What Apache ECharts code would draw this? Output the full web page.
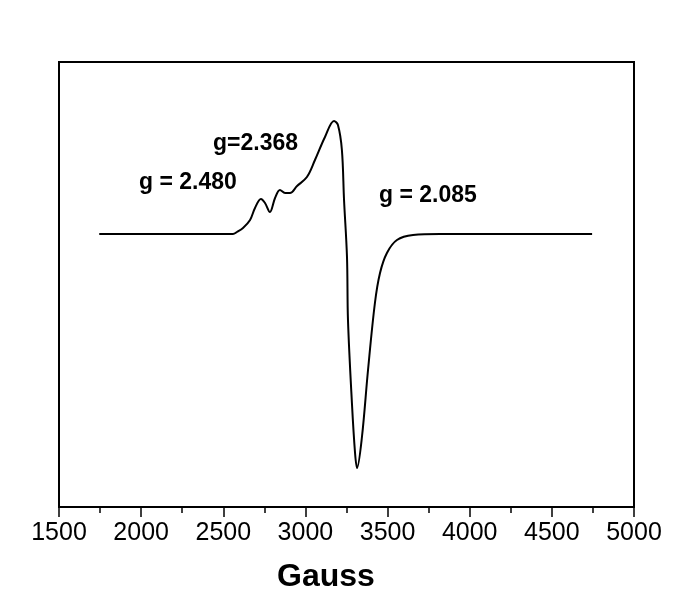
<!DOCTYPE html>
<html>
<head>
<meta charset="utf-8">
<script src="https://cdn.jsdelivr.net/npm/echarts@6/dist/echarts.min.js"></script>
<style>
  html, body { margin: 0; padding: 0; background: #fff; }
  #chart { width: 694px; height: 603px; }
</style>
</head>
<body>
<div id="chart"></div>
<script>
// field (Gauss) and signal (arb. units)
const field = [1745, 1900, 2100, 2300, 2450, 2559, 2583, 2620, 2663, 2693, 2729, 2754, 2784, 2815, 2845, 2876, 2906, 2949, 3009, 3058, 3119, 3174, 3198, 3222, 3235, 3253, 3259, 3283, 3302, 3314, 3344, 3381, 3423, 3454, 3496, 3557, 3655, 3819, 4000, 4200, 4400, 4600, 4745]
const signal = [0, 0, 0, 0, 0, 0, 2, 6, 14, 26, 35, 31, 22, 36, 44, 41, 41, 48, 57, 74, 97, 113, 109, 84, 34, -23, -86, -169, -219, -234, -203, -136, -69, -39, -19, -6, -1, 0, 0, 0, 0, 0, 0]
const xTicks = [1500, 5000, 500]
// g-value labels: left edge and vertical centre in pixels
const labels = [
  { text: 'g = 2.480', x: 139, y: 183 },
  { text: 'g=2.368', x: 213, y: 144 },
  { text: 'g = 2.085', x: 379, y: 196 }
]

const chart = echarts.init(document.getElementById('chart'))

const option = {
  animation: false,
  grid: {
    left: 59,
    right: 60,
    top: 62,
    bottom: 96,
    show: true,
    borderColor: '#000',
    borderWidth: 2
  },
  xAxis: {
    type: 'value',
    min: xTicks[0],
    max: xTicks[1],
    interval: xTicks[2],
    name: 'Gauss',
    nameLocation: 'middle',
    nameGap: 54,
    nameTextStyle: {
      fontFamily: 'Liberation Sans',
      fontWeight: 'bold',
      fontSize: 32,
      color: '#000',
      padding: [0, 41, 0, 0]
    },
    axisLine: { onZero: false, lineStyle: { color: '#000', width: 2 } },
    axisTick: { show: true, inside: false, length: 10, lineStyle: { color: '#000', width: 1.5 } },
    minorTick: { show: true, splitNumber: 2, length: 6, lineStyle: { color: '#000', width: 1.5 } },
    axisLabel: {
      margin: 14,
      fontFamily: 'Liberation Sans',
      fontSize: 25,
      color: '#000',
      formatter: v => String(v)
    },
    splitLine: { show: false }
  },
  yAxis: {
    type: 'value',
    min: -273,
    max: 172,
    axisLine: { show: true, onZero: false, lineStyle: { color: '#000', width: 2 } },
    axisTick: { show: false },
    axisLabel: { show: false },
    splitLine: { show: false }
  },
  series: [
    {
      type: 'line',
      data: field.map((g, i) => [g, signal[i]]),
      smooth: 0.35,
      showSymbol: false,
      lineStyle: { color: '#000', width: 2 }
    }
  ],
  graphic: labels.map(l => ({
    type: 'text',
    left: l.x,
    top: l.y - 12,
    style: {
      text: l.text,
      fontFamily: 'Liberation Sans',
      fontWeight: 'bold',
      fontSize: 23,
      fill: '#000'
    }
  }))
}

chart.setOption(option)
</script>
</body>
</html>
